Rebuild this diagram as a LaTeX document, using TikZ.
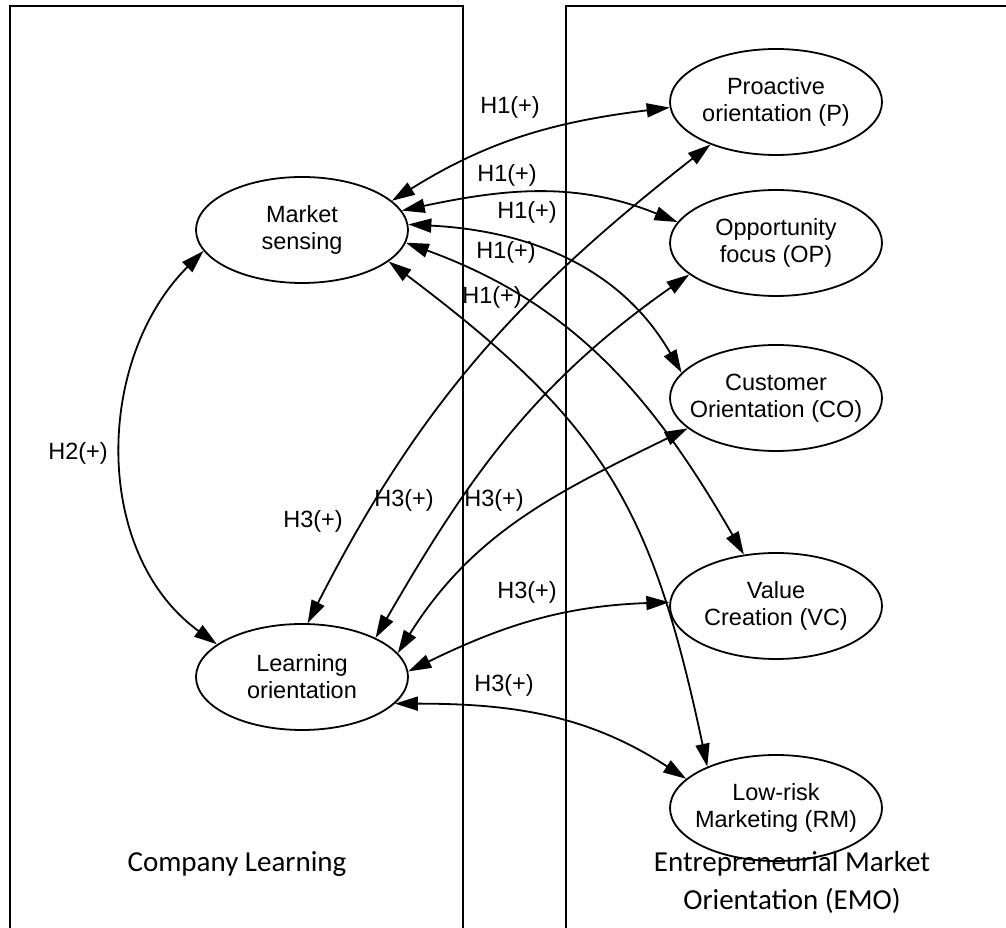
\documentclass[tikz,border=0pt]{standalone}
\usepackage{fontspec}
\setmainfont{Liberation Sans}
\newfontfamily\calibri{Carlito}
\usetikzlibrary{shapes.geometric,arrows.meta}
\tikzset{
construct/.style={ellipse,draw,line width=1.8pt,minimum width=212pt,minimum height=106pt,inner xsep=-20pt,inner ysep=0pt,align=center,font=\fontsize{23.5}{27}\selectfont},
hyp/.style={inner sep=0pt,font=\fontsize{23.5}{27}\selectfont},
link/.style={{Triangle[length=23pt,width=14pt]}-{Triangle[length=23pt,width=14pt]},line width=1.8pt},
frame/.style={line width=2.6pt},
caption/.style={align=center,font=\calibri\fontsize{29}{38}\selectfont}
}

\begin{document}
\begin{tikzpicture}[x=1pt,y=1pt]
\useasboundingbox (0,0) rectangle (1006,928);
\draw[frame] (10,-10) -- (10,922) -- (463,922) -- (463,-10);
\draw[frame] (566,-10) -- (566,922) -- (1020,922);
\node[construct] (MS) at (302,698) {Market\\sensing};
\node[construct] (LO) at (302,251) {Learning\\orientation};
\node[construct] (P) at (776,826) {Proactive\\orientation (P)};
\node[construct] (OP) at (776,685) {Opportunity\\focus (OP)};
\node[construct] (CO) at (776,530) {Customer\\Orientation (CO)};
\node[construct] (VC) at (776,322) {Value\\Creation (VC)};
\node[construct] (RM) at (776,120) {Low-risk\\Marketing (RM)};
\draw[link] (MS.18) to[out=32,in=187] (P.183);
\draw[link] (MS.11) to[out=12,in=158] (OP.168);
\draw[link] (MS.3) to[out=-3,in=120] (CO.165);
\draw[link] (MS.-7) to[out=-20,in=120] (VC.122);
\draw[link] (MS.-20) to[out=-37,in=102,looseness=1.15] (RM.149);
\draw[link] (LO.84) to[out=63,in=218] (P.213);
\draw[link] (LO.28) to[out=60,in=215] (OP.200);
\draw[link] (LO.14) to[out=58,in=206] (CO.199);
\draw[link] (LO.3) to[out=26,in=182] (VC.178);
\draw[link] (LO.-16) to[out=0,in=147] (RM.162);
\draw[link] (MS.192) to[out=225,in=144] (LO.159);
\foreach \nm/\x/\y/\t in {a/510/821/H1(+),b/507/753/H1(+),c/527/716/H1(+),d/506/676/H1(+),e/492/631/H1(+),
  f/78/475/H2(+),g/313/407/H3(+),h/404/428/H3(+),i/494/428/H3(+),j/527/336/H3(+),k/504/243/H3(+)}{
\node[hyp] (lab\nm) at (\x,\y) {\t};
}
\node[caption,anchor=base] (cl) at (237,56) {Company Learning};
\node[caption,anchor=base] (emo) at (792,18) {Entrepreneurial Market\\Orientation (EMO)};
\end{tikzpicture}
\end{document}
